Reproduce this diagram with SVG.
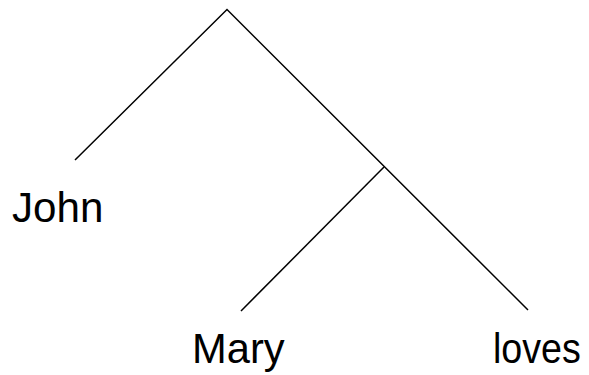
<svg xmlns="http://www.w3.org/2000/svg" width="589" height="375" viewBox="0 0 589 375">
<style>
.e{stroke:#000;stroke-width:1.5;fill:none;stroke-linecap:butt}
.t{font-family:"Liberation Sans",Arial,sans-serif;font-size:43px;fill:#000}
</style>
<rect width="589" height="375" fill="#fff"/>
<g id="connectors">
<polyline class="e" points="75,160 227,9.5 528,310"/>
<line class="e" x1="384" y1="167" x2="241" y2="311"/>
</g>
<g id="john"><text class="t" transform="translate(12,222) scale(0.98,1)">John</text></g>
<g id="mary"><text class="t" transform="translate(192,363) scale(0.97,1)">Mary</text></g>
<g id="loves"><text class="t" transform="translate(493,363) scale(0.875,1)">loves</text></g>
</svg>
